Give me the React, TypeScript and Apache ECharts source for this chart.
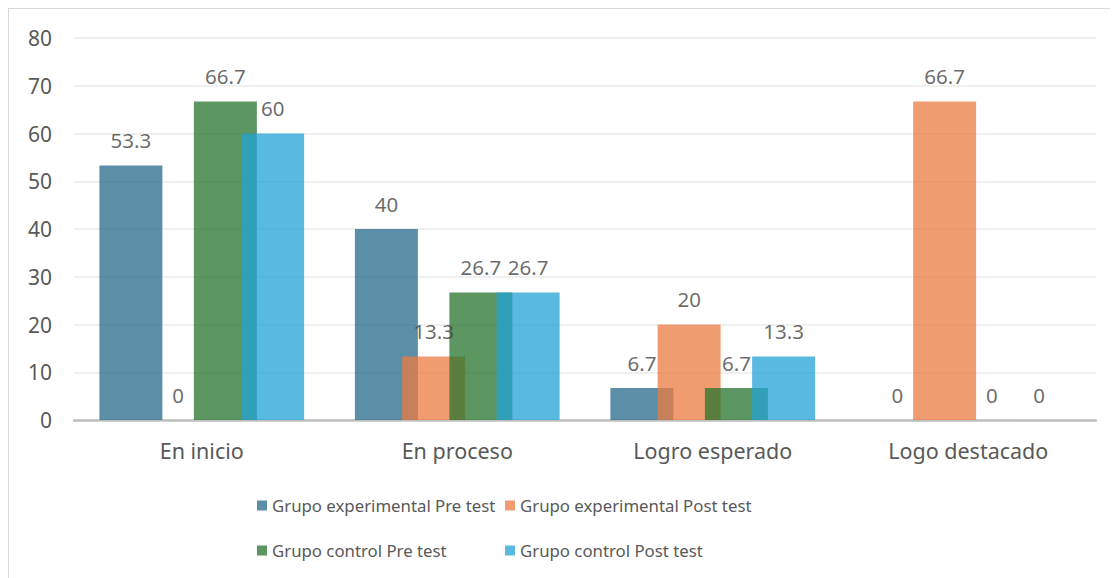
import React, { useEffect, useRef } from "react";
import * as echarts from "echarts";

const categories = ["En inicio", "En proceso", "Logro esperado", "Logo destacado"];
const seriesNames = [
  "Grupo experimental Pre test",
  "Grupo experimental Post test",
  "Grupo control Pre test",
  "Grupo control Post test",
];
const expPre = [53.3, 40, 6.7, 0];
const expPost = [0, 13.3, 20, 66.7];
const ctrlPre = [66.7, 26.7, 6.7, 0];
const ctrlPost = [60, 26.7, 13.3, 0];
const yTicks = { min: 0, max: 80, interval: 10 };

const colors = ["#246A8A", "#EC7B40", "#26742E", "#23A2D6"];
const FONT = "Noto Sans";

export default function App() {
  const ref = useRef<HTMLDivElement>(null);
  useEffect(() => {
    if (!ref.current) return;
    const chart = echarts.init(ref.current, undefined, { renderer: "svg" });
    const values = [expPre, expPost, ctrlPre, ctrlPost];
    const legendPos = [
      { left: 243, top: 483 },
      { left: 491, top: 483 },
      { left: 243, top: 528 },
      { left: 491, top: 528 },
    ];
    chart.setOption({
      animation: false,
      backgroundColor: "#ffffff",
      textStyle: { fontFamily: FONT },
      grid: { left: 65, right: 22, top: 29, bottom: 158, containLabel: false },
      legend: seriesNames.map((n, i) => ({
        data: [n],
        left: legendPos[i].left,
        top: legendPos[i].top,
        icon: "rect",
        itemWidth: 10,
        itemHeight: 10,
        selectedMode: false,
        textStyle: { fontFamily: FONT, fontSize: 16.8, color: "#595959" },
      })),
      xAxis: {
        type: "category",
        data: categories,
        axisTick: { show: false },
        axisLine: { show: true, lineStyle: { color: "#BFBFBF", width: 2.5 } },
        axisLabel: { fontFamily: FONT, fontSize: 21.5, color: "#595959", margin: 19 },
      },
      yAxis: {
        type: "value",
        min: yTicks.min,
        max: yTicks.max,
        interval: yTicks.interval,
        axisLine: { show: false },
        axisTick: { show: false },
        splitLine: { lineStyle: { color: "#EBEBEB", width: 1.5 } },
        axisLabel: { fontFamily: FONT, fontSize: 21, color: "#595959", margin: 22 },
      },
      series: seriesNames.map((n, i) => ({
        name: n,
        type: "bar",
        data: values[i],
        barWidth: 63,
        barGap: "-25%",
        itemStyle: { color: colors[i], opacity: 0.75 },
        label: {
          show: true,
          position: "top",
          distance: 15,
          fontFamily: FONT,
          fontSize: 20.5,
          color: "#3A3A3A",
        },
      })),
    });
    return () => chart.dispose();
  }, []);
  return (
    <div
      ref={ref}
      style={{
        width: 1109,
        height: 569,
        borderTop: "1px solid #D9D9D9",
        borderLeft: "1px solid #D9D9D9",
      }}
    />
  );
}
